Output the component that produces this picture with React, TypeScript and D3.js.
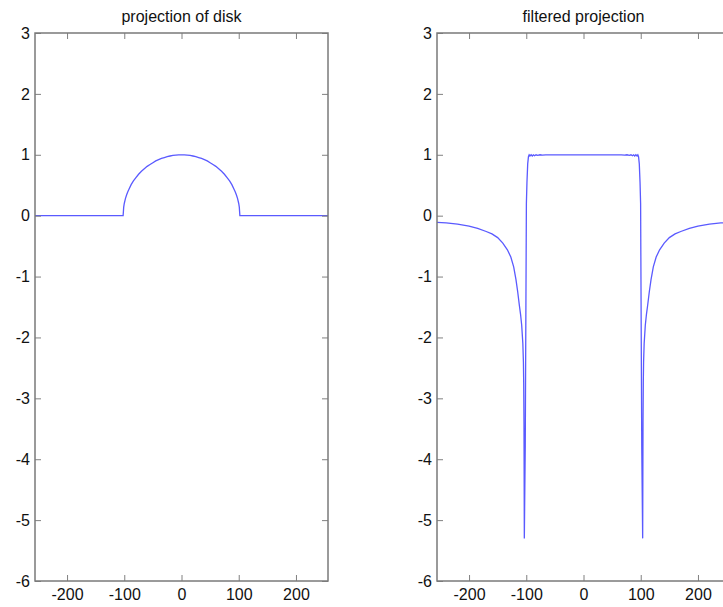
import React, { useEffect, useRef } from "react";
import * as d3 from "d3";

const xTicks = [-200, -100, 0, 100, 200];
const yTicks = [-6, -5, -4, -3, -2, -1, 0, 1, 2, 3];
const titles = ["projection of disk", "filtered projection"];

// left panel: projection of the disk
const diskX = [-256, -102, -101, -100, -98, -96, -94, -92, -88, -84, -80, -75, -70, -65, -60, -55, -50, -45, -40, -35, -30, -25, -20, -15, -10, -5, 0,
  5, 10, 15, 20, 25, 30, 35, 40, 45, 50, 55, 60, 65, 70, 75, 80, 84, 88, 92, 94, 96, 98, 100, 101, 102, 256];
const diskY = [0, 0, 0.14, 0.2, 0.28, 0.34, 0.39, 0.43, 0.51, 0.57, 0.62, 0.68, 0.73, 0.77, 0.81, 0.84, 0.87, 0.9, 0.92, 0.94, 0.955, 0.97, 0.98, 0.99, 0.995, 1.0, 1.0,
  1.0, 0.995, 0.99, 0.98, 0.97, 0.955, 0.94, 0.92, 0.9, 0.87, 0.84, 0.81, 0.77, 0.73, 0.68, 0.62, 0.57, 0.51, 0.43, 0.39, 0.34, 0.28, 0.2, 0.14, 0, 0];

// right panel: filtered projection
const filtX = [-256, -240, -220, -200, -185, -170, -160, -150, -141, -133, -127, -122, -118, -115, -112, -110, -108, -106, -105, -104.5, -104, -103.7, -103.4,
  -101.8, -99.8, -98.8, -97.5, -96.2, -95, -93.5, -91.5, -89.5, -87.5, -85.5, -83, -80, -76, -72, -66, -58, -48, 0,
  48, 58, 66, 72, 76, 80, 83, 85.5, 87.5, 89.5, 91.5, 93.5, 95, 96.2, 97.5, 98.8, 99.8, 101.8,
  103.4, 103.7, 104, 104.5, 105, 106, 108, 110, 112, 115, 118, 122, 127, 133, 141, 150, 160, 170, 185, 200, 220, 240, 256];
const filtY = [-0.11, -0.12, -0.14, -0.17, -0.21, -0.26, -0.3, -0.36, -0.45, -0.56, -0.68, -0.84, -1.05, -1.25, -1.48, -1.62, -1.8, -2.1, -2.4, -2.75, -3.4, -4.3, -5.3,
  -3.8, 0.2, 0.55, 0.85, 0.97, 1.0, 0.98, 1.0, 0.98, 1.0, 0.985, 1.0, 0.99, 1.0, 0.993, 1.0, 0.997, 1.0, 1.0,
  1.0, 0.997, 1.0, 0.993, 1.0, 0.99, 1.0, 0.985, 1.0, 0.98, 1.0, 0.98, 1.0, 0.97, 0.85, 0.55, 0.2, -3.8,
  -5.3, -4.3, -3.4, -2.75, -2.4, -2.1, -1.8, -1.62, -1.48, -1.25, -1.05, -0.84, -0.68, -0.56, -0.45, -0.36, -0.3, -0.26, -0.21, -0.17, -0.14, -0.12, -0.11];

export default function App() {
  const ref = useRef<SVGSVGElement>(null);

  useEffect(() => {
    const svg = d3.select(ref.current);
    svg.selectAll("*").remove();

    const width = 293;
    const top = 33;
    const bottom = 581;
    const font = "'Liberation Sans', Arial, sans-serif";
    const panels = [
      { title: titles[0], xs: diskX, ys: diskY, left: 35 },
      { title: titles[1], xs: filtX, ys: filtY, left: 437 },
    ];

    panels.forEach(p => {
      const x = d3.scaleLinear().domain([-256, 256]).range([p.left, p.left + width]);
      const y = d3.scaleLinear().domain([-6, 3]).range([bottom, top]);
      const g = svg.append("g");

      // data line
      const line = d3.line<number>()
        .x((d, i) => x(p.xs[i]))
        .y(d => y(d));
      g.append("path")
        .attr("d", line(p.ys))
        .attr("fill", "none")
        .attr("stroke", "#5a5aff")
        .attr("stroke-width", 1.3);

      // axes, ticks pointing inward like matlab
      const styleAxis = (a: d3.Selection<SVGGElement, unknown, null, undefined>) => {
        a.attr("color", "#808080");
        a.select(".domain").remove();
        a.selectAll("text")
          .attr("fill", "#111")
          .attr("font-size", 16)
          .attr("font-family", font);
      };
      const plain = (d: d3.NumberValue) => String(d);

      g.append("g")
        .attr("transform", `translate(0,${bottom})`)
        .call(d3.axisBottom(x).tickValues(xTicks).tickFormat(plain).tickSize(-6).tickPadding(8))
        .call(styleAxis);
      g.append("g")
        .attr("transform", `translate(0,${top})`)
        .call(d3.axisTop(x).tickValues(xTicks).tickSize(-6).tickFormat(() => ""))
        .call(styleAxis);
      g.append("g")
        .attr("transform", `translate(${p.left},0)`)
        .call(d3.axisLeft(y).tickValues(yTicks).tickFormat(plain).tickSize(-6).tickPadding(5))
        .call(styleAxis);
      g.append("g")
        .attr("transform", `translate(${p.left + width},0)`)
        .call(d3.axisRight(y).tickValues(yTicks).tickSize(-6).tickFormat(() => ""))
        .call(styleAxis);

      // frame
      g.append("rect")
        .attr("x", p.left)
        .attr("y", top)
        .attr("width", width)
        .attr("height", bottom - top)
        .attr("fill", "none")
        .attr("stroke", "#7a7a7a")
        .attr("stroke-width", 1.5);

      // title
      g.append("text")
        .attr("x", p.left + width / 2)
        .attr("y", 22)
        .attr("text-anchor", "middle")
        .attr("font-size", 16)
        .attr("font-family", font)
        .attr("fill", "#111")
        .text(p.title);
    });
  }, []);

  return (
    <svg
      ref={ref}
      width={723}
      height={607}
      style={{ position: "absolute", left: 0, top: 0, background: "#fff" }}
    />
  );
}
